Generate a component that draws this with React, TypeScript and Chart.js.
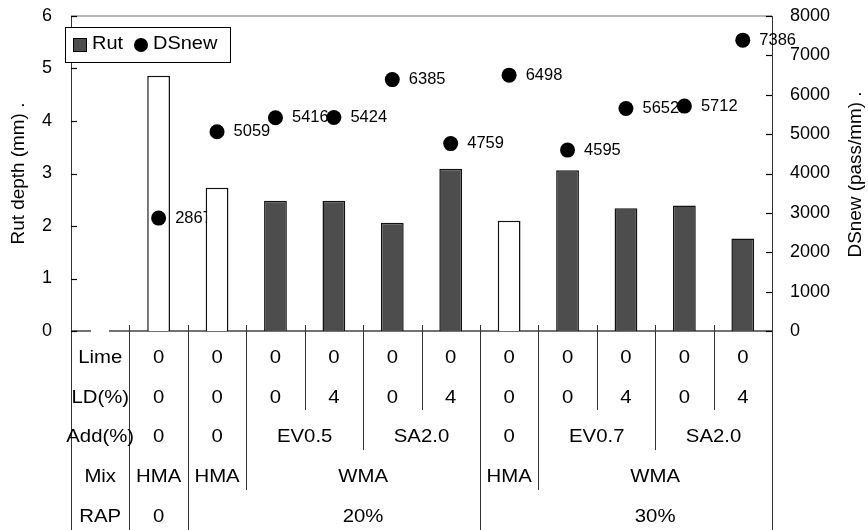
import React, { useEffect, useRef } from "react";
import { Chart, registerables } from "chart.js";

Chart.register(...registerables);

// ---------- data ----------
const categories = [
  "",
  "RAP0-HMA",
  "RAP20-HMA",
  "RAP20-EV0.5-LD0",
  "RAP20-EV0.5-LD4",
  "RAP20-SA2.0-LD0",
  "RAP20-SA2.0-LD4",
  "RAP30-HMA",
  "RAP30-EV0.7-LD0",
  "RAP30-EV0.7-LD4",
  "RAP30-SA2.0-LD0",
  "RAP30-SA2.0-LD4",
];
const rutDepth = [null, 4.86, 2.73, 2.48, 2.48, 2.06, 3.09, 2.1, 3.06, 2.34, 2.39, 1.76];
const dsNew = [null, 2867, 5059, 5416, 5424, 6385, 4759, 6498, 4595, 5652, 5712, 7386];
const mixKind = ["", "HMA", "HMA", "WMA", "WMA", "WMA", "WMA", "HMA", "WMA", "WMA", "WMA", "WMA"];

const leftTicksMax = 6;
const rightTicksMax = 8000;

const tableRowLabels = ["Lime", "LD(%)", "Add(%)", "Mix", "RAP"];
// each cell: [text, first column, column span]
const limeRow: [string, number, number][] = [
  ["0", 1, 1], ["0", 2, 1], ["0", 3, 1], ["0", 4, 1], ["0", 5, 1], ["0", 6, 1],
  ["0", 7, 1], ["0", 8, 1], ["0", 9, 1], ["0", 10, 1], ["0", 11, 1],
];
const ldRow: [string, number, number][] = [
  ["0", 1, 1], ["0", 2, 1], ["0", 3, 1], ["4", 4, 1], ["0", 5, 1], ["4", 6, 1],
  ["0", 7, 1], ["0", 8, 1], ["4", 9, 1], ["0", 10, 1], ["4", 11, 1],
];
const addRow: [string, number, number][] = [
  ["0", 1, 1], ["0", 2, 1], ["EV0.5", 3, 2], ["SA2.0", 5, 2],
  ["0", 7, 1], ["EV0.7", 8, 2], ["SA2.0", 10, 2],
];
const mixRow: [string, number, number][] = [
  ["HMA", 1, 1], ["HMA", 2, 1], ["WMA", 3, 4], ["HMA", 7, 1], ["WMA", 8, 4],
];
const rapRow: [string, number, number][] = [
  ["0", 1, 1], ["20%", 2, 6], ["30%", 8, 4],
];
const tableRows = [limeRow, ldRow, addRow, mixRow, rapRow];
// how many table rows each column boundary line runs through (boundary 0..12)
const boundaryDepth = [5, 5, 5, 4, 2, 3, 2, 5, 4, 2, 3, 2, 5];

const leftTitle = "Rut depth (mm) .";
const rightTitle = "DSnew (pass/mm) .";
const FONT = "'Liberation Sans', Arial, sans-serif";

function sText(
  ctx: CanvasRenderingContext2D,
  text: string,
  x: number,
  y: number,
  size: number,
  align: CanvasTextAlign,
  sx: number
) {
  ctx.save();
  ctx.font = `${size}px ${FONT}`;
  ctx.textAlign = align;
  ctx.textBaseline = "middle";
  ctx.fillStyle = "#000";
  ctx.translate(x, y);
  ctx.scale(sx, 1);
  ctx.fillText(text, 0, 0);
  ctx.restore();
}

const decorPlugin = {
  id: "decor",
  beforeDraw(chart: any) {
    const ctx = chart.ctx;
    ctx.save();
    ctx.fillStyle = "#fff";
    ctx.fillRect(0, 0, chart.width, chart.height);
    ctx.restore();
  },
  beforeDatasetsDraw(chart: any) {
    const ctx: CanvasRenderingContext2D = chart.ctx;
    const { left, right, top, bottom } = chart.chartArea;
    const xs = chart.scales.x;
    const y = chart.scales.y;
    const y2 = chart.scales.y2;
    const half = (xs.getPixelForValue(1) - xs.getPixelForValue(0)) / 2;
    const rowH = 40;
    ctx.save();
    // top border
    ctx.strokeStyle = "#a0a0a0";
    ctx.lineWidth = 1.5;
    ctx.beginPath();
    ctx.moveTo(left, top);
    ctx.lineTo(right, top);
    ctx.stroke();
    // bottom axis (with gap in first column)
    ctx.strokeStyle = "#444";
    ctx.lineWidth = 1.5;
    ctx.beginPath();
    ctx.moveTo(left, bottom);
    ctx.lineTo(left + 20, bottom);
    ctx.moveTo(left + 38, bottom);
    ctx.lineTo(right, bottom);
    ctx.stroke();
    // table boundaries
    ctx.strokeStyle = "#333";
    ctx.lineWidth = 1;
    for (let i = 0; i <= categories.length; i++) {
      const bx = Math.round(i < categories.length ? xs.getPixelForValue(i) - half : xs.getPixelForValue(i - 1) + half) + 0.5;
      const endY = boundaryDepth[i] >= 5 ? chart.height : bottom - 1 + rowH * boundaryDepth[i];
      ctx.beginPath();
      ctx.moveTo(bx, i === 0 || i === categories.length ? top : bottom - 6);
      ctx.lineTo(bx, endY);
      ctx.stroke();
    }
    ctx.strokeStyle = "#000";
    ctx.lineWidth = 1.2;
    // inward ticks
    for (let v = 0; v <= leftTicksMax; v++) {
      const py = Math.round(y.getPixelForValue(v)) + 0.5;
      ctx.beginPath();
      ctx.moveTo(left, py);
      ctx.lineTo(left + 6, py);
      ctx.stroke();
    }
    for (let v = 0; v <= rightTicksMax; v += 1000) {
      const py = Math.round(y2.getPixelForValue(v)) + 0.5;
      ctx.beginPath();
      ctx.moveTo(right - 6, py);
      ctx.lineTo(right, py);
      ctx.stroke();
    }
    // table text
    tableRowLabels.forEach((lab, r) => {
      const cy = bottom + 27 + r * 39.7;
      sText(ctx, lab, xs.getPixelForValue(0), cy, 18.5, "center", 1.1);
      tableRows[r].forEach(([t, c, span]) => {
        const x0 = xs.getPixelForValue(c) - half;
        const x1 = xs.getPixelForValue(c + span - 1) + half;
        sText(ctx, t, (x0 + x1) / 2, cy, 18.5, "center", 1.1);
      });
    });
    // axis titles
    ctx.save();
    ctx.translate(19, (top + bottom) / 2);
    ctx.rotate(-Math.PI / 2);
    sText(ctx, leftTitle, 0, 0, 18, "center", 1.05);
    ctx.restore();
    ctx.save();
    ctx.translate(856, (top + bottom) / 2 + 1);
    ctx.rotate(-Math.PI / 2);
    sText(ctx, rightTitle, 0, 0, 18, "center", 1.05);
    ctx.restore();
    // point value labels (under the points)
    const meta = chart.getDatasetMeta(1);
    meta.data.forEach((pt: any, i: number) => {
      const v = dsNew[i];
      if (v == null) return;
      sText(ctx, String(v), pt.x + 16.5, pt.y, 16.5, "left", 1.0);
    });
    ctx.restore();
  },
  afterDraw(chart: any) {
    const ctx: CanvasRenderingContext2D = chart.ctx;
    ctx.save();
    // legend box
    ctx.fillStyle = "#fff";
    ctx.fillRect(65.5, 27.5, 165, 35);
    ctx.strokeStyle = "#000";
    ctx.lineWidth = 1;
    ctx.strokeRect(65.5, 27.5, 165, 35);
    ctx.fillStyle = "#4d4d4d";
    ctx.fillRect(73.5, 38.5, 13, 13);
    ctx.strokeRect(73.5, 38.5, 13, 13);
    sText(ctx, "Rut", 92, 44, 18.5, "left", 1.08);
    ctx.fillStyle = "#000";
    ctx.beginPath();
    ctx.arc(141, 45, 7, 0, Math.PI * 2);
    ctx.fill();
    sText(ctx, "DSnew", 153, 44, 18.5, "left", 1.08);
    ctx.restore();
  },
};

export default function App() {
  const ref = useRef<HTMLCanvasElement>(null);
  useEffect(() => {
    if (!ref.current) return;
    const fitV = (w: number) => (s: any) => {
      s.width = w;
      s.paddingTop = 0;
      s.paddingBottom = 0;
    };
    const chart = new Chart(ref.current, {
      type: "bar",
      data: {
        labels: categories,
        datasets: [
          {
            type: "bar",
            label: "Rut",
            data: rutDepth as any,
            backgroundColor: mixKind.map((m) => (m === "HMA" ? "#ffffff" : "#4d4d4d")),
            borderColor: "#111",
            borderWidth: 1.5,
            barPercentage: 0.39,
            categoryPercentage: 1,
            yAxisID: "y",
            order: 2,
          },
          {
            type: "line",
            label: "DSnew",
            data: dsNew as any,
            showLine: false,
            pointRadius: 7.5,
            pointBackgroundColor: "#000",
            pointBorderColor: "#000",
            pointBorderWidth: 0,
            yAxisID: "y2",
            order: 1,
          } as any,
        ],
      },
      options: {
        responsive: false,
        animation: false,
        layout: { padding: { top: 16, bottom: 199, left: 0, right: 0 } },
        plugins: {
          legend: { display: false },
          tooltip: { enabled: false },
          title: { display: false },
        },
        scales: {
          x: { type: "category", display: false, offset: true, grid: { display: false } },
          y: {
            position: "left",
            min: 0,
            max: leftTicksMax,
            grid: { display: false, drawTicks: false, tickLength: 0 },
            border: { display: false },
            ticks: {
              stepSize: 1,
              padding: 19,
              color: "#000",
              font: { family: FONT, size: 18 },
              callback: (v: any) => String(v),
            },
            afterFit: fitV(71),
          },
          y2: {
            position: "right",
            min: 0,
            max: rightTicksMax,
            grid: { display: false, drawTicks: false, tickLength: 0 },
            border: { display: false },
            ticks: {
              stepSize: 1000,
              padding: 18,
              color: "#000",
              font: { family: FONT, size: 18 },
              callback: (v: any) => String(v),
            },
            afterFit: fitV(96),
          },
        },
      },
      plugins: [decorPlugin],
    });
    return () => chart.destroy();
  }, []);
  return (
    <div style={{ position: "fixed", left: 0, top: 0, width: 868, height: 530, background: "#fff" }}>
      <canvas ref={ref} width={868} height={530} style={{ display: "block" }} />
    </div>
  );
}
